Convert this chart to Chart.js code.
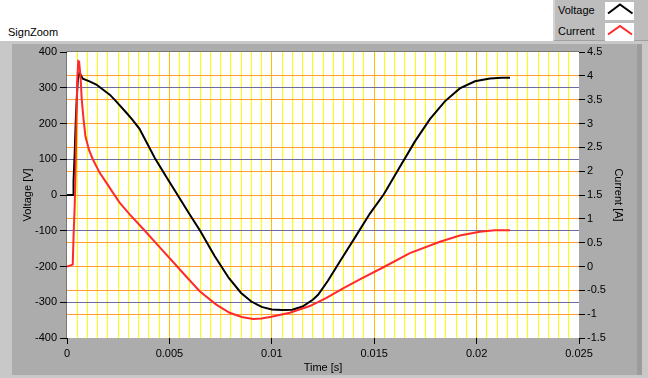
<!DOCTYPE html>
<html>
<head>
<meta charset="utf-8">
<script src="https://cdn.jsdelivr.net/npm/chart.js@4.4.1/dist/chart.umd.min.js"></script>
<style>
  body { margin: 0; width: 648px; height: 378px; overflow: hidden; background: #fff; position: relative;
    font-family: 'Liberation Sans', Arial, sans-serif; font-size: 11px; color: #000; }
  .frame { position: absolute; left: 0; top: 41px; width: 648px; height: 337px; background: #c8c8c8; }
  .inner { position: absolute; left: 12px; top: 44px; width: 625px; height: 331px; background: #acacac; }
  .edge { position: absolute; left: 637px; top: 44px; width: 5px; height: 331px; background: #9c9c9c; }
  #graph-name { position: absolute; left: 8px; top: 26px; line-height: 13px; }
  #legend { position: absolute; left: 553px; top: 0; width: 95px; height: 41px; background: #bdbdbd;
    box-sizing: border-box; border-left: 2px solid #d4d4d4; border-bottom: 1px solid #a0a0a0; }
  .leg-label { position: absolute; left: 3px; line-height: 13px; }
  .leg-swatch { position: absolute; left: 50px; width: 29px; height: 18px; background: #fff; }
  canvas { position: absolute; left: 0; top: 0; }
</style>
</head>
<body>
<div class="frame"></div>
<div class="inner"></div>
<div class="edge"></div>
<div id="graph-name">SignZoom</div>
<div id="legend">
  <div class="leg-label" style="top:4px">Voltage</div>
  <svg class="leg-swatch" style="top:2px" width="29" height="18">
    <polyline points="3,11.5 15,2.5 27.5,11.5" fill="none" stroke="#000" stroke-width="2"/>
  </svg>
  <div class="leg-label" style="top:25px">Current</div>
  <svg class="leg-swatch" style="top:23px" width="29" height="18">
    <polyline points="3,11.5 15,3 27,11.5" fill="none" stroke="#ff2a2a" stroke-width="2"/>
  </svg>
</div>
<canvas id="sign-chart" width="648" height="378"></canvas>
<script>
// values
const timeVoltage = [0, 0.0003, 0.00032, 0.00038, 0.00043, 0.00048, 0.00053, 0.00061, 0.00077, 0.0011,
  0.00143, 0.00175, 0.0021, 0.0024, 0.0029, 0.0032, 0.00354, 0.00428, 0.0048, 0.0054,
  0.006, 0.0065, 0.0072, 0.0079, 0.0085, 0.009, 0.0095, 0.01, 0.0105, 0.011,
  0.0115, 0.012, 0.01226, 0.01274, 0.0133, 0.01405, 0.01479, 0.01547, 0.01625, 0.01699,
  0.01772, 0.01845, 0.01918, 0.01992, 0.02065, 0.02123, 0.02163];
const voltage = [0, 0, 39, 122, 211, 273, 323, 342, 325, 318,
  309, 295, 280, 262, 230, 210, 185, 104, 55, 0,
  -55, -100, -170, -232, -274, -298, -313, -320, -322, -321,
  -312, -293, -279, -240, -188, -120, -52, 2, 78, 150,
  212, 262, 298, 318, 326, 328, 328];

const timeCurrent = [0, 0.00028, 0.00032, 0.00037, 0.00041, 0.00046, 0.0005, 0.00055, 0.00059, 0.00066,
  0.00072, 0.00081, 0.0009, 0.00107, 0.00126, 0.00159, 0.00192, 0.00224, 0.00257, 0.00305,
  0.00379, 0.00452, 0.00526, 0.00584, 0.00648, 0.00729, 0.00794, 0.00853, 0.00908, 0.0095,
  0.00998, 0.01088, 0.01186, 0.01267, 0.01348, 0.0143, 0.01552, 0.01674, 0.01821, 0.01918,
  0.02016, 0.02089, 0.02163];
const current = [0, 0.04, 0.63, 1.2, 1.82, 3.01, 3.92, 4.31, 4.3, 3.99,
  3.5, 3.08, 2.73, 2.45, 2.25, 1.97, 1.76, 1.55, 1.34, 1.1,
  0.755, 0.405, 0.057, -0.22, -0.52, -0.8, -0.97, -1.06, -1.1, -1.09,
  -1.055, -0.97, -0.83, -0.66, -0.46, -0.27, 0, 0.28, 0.52, 0.65,
  0.73, 0.76, 0.76];

const timeTicks = [0, 0.005, 0.01, 0.015, 0.02, 0.025];
const timeTickLabels = ['0', '0.005', '0.01', '0.015', '0.02', '0.025'];
const voltageTicks = [-400, -300, -200, -100, 0, 100, 200, 300, 400];
const voltageTickLabels = ['-400', '-300', '-200', '-100', '0', '100', '200', '300', '400'];
const currentTicks = [-1.5, -1, -0.5, 0, 0.5, 1, 1.5, 2, 2.5, 3, 3.5, 4, 4.5];
const currentTickLabels = ['-1.5', '-1', '-0.5', '0', '0.5', '1', '1.5', '2', '2.5', '3', '3.5', '4', '4.5'];

const MINOR_PER_MAJOR = 10;

const gridColors = {
  timeMinor: '#ffff00',
  timeMajor: '#ffc000',
  voltage: '#6b6b9c',
  current: '#ff9d33',
};

const font = { family: "'Liberation Sans', Arial, sans-serif", size: 11 };

const toPoints = (xs, ys) => xs.map((x, i) => ({ x, y: ys[i] }));

const minorTimeTicks = () => {
  const step = (timeTicks[1] - timeTicks[0]) / MINOR_PER_MAJOR;
  const count = (timeTicks.length - 1) * MINOR_PER_MAJOR;
  return Array.from({ length: count + 1 }, (_, i) => ({ value: i * step }));
};

// white plot area, sunken edge and the grid, all under the curves
const plotBackground = {
  id: 'plotBackground',
  beforeDraw(chart) {
    const { ctx, chartArea: a } = chart;
    ctx.save();
    ctx.fillStyle = '#fff';
    ctx.fillRect(a.left, a.top, a.right - a.left, a.bottom - a.top);
    ctx.strokeStyle = '#767676';
    ctx.lineWidth = 1;
    ctx.beginPath();
    ctx.moveTo(a.left - 0.5, a.bottom);
    ctx.lineTo(a.left - 0.5, a.top - 0.5);
    ctx.lineTo(a.right, a.top - 0.5);
    ctx.stroke();
    ctx.restore();
  },
  beforeDatasetsDraw(chart) {
    const { ctx, chartArea: a, scales } = chart;
    const line = (x1, y1, x2, y2, color) => {
      ctx.strokeStyle = color;
      ctx.beginPath();
      ctx.moveTo(x1, y1);
      ctx.lineTo(x2, y2);
      ctx.stroke();
    };
    const crisp = (p) => Math.floor(p + 0.01) + 0.5;
    ctx.save();
    ctx.lineWidth = 1;
    scales.x.ticks.forEach((t, i, arr) => {
      if (i === 0 || i === arr.length - 1) return;
      const x = crisp(scales.x.getPixelForValue(t.value));
      line(x, a.top, x, a.bottom, i % MINOR_PER_MAJOR === 0 ? gridColors.timeMajor : gridColors.timeMinor);
    });
    const currentRows = currentTicks.slice(1, -1).map((v) => crisp(scales.y2.getPixelForValue(v)));
    voltageTicks.slice(1, -1).forEach((v) => {
      const y = crisp(scales.y.getPixelForValue(v));
      // where an orange current line sits on the same row it hides the voltage line
      if (currentRows.some((r) => Math.abs(r - y) < 1.5)) return;
      line(a.left, y, a.right, y, gridColors.voltage);
    });
    currentRows.forEach((y) => line(a.left, y, a.right, y, gridColors.current));
    ctx.restore();
  },
};

new Chart(document.getElementById('sign-chart'), {
  type: 'line',
  data: {
    datasets: [
      {
        label: 'Current',
        data: toPoints(timeCurrent, current),
        yAxisID: 'y2',
        borderColor: '#ff2a2a',
        borderWidth: 2,
        pointRadius: 0,
        tension: 0,
        fill: false,
        order: 1,
      },
      {
        label: 'Voltage',
        data: toPoints(timeVoltage, voltage),
        yAxisID: 'y',
        borderColor: '#000',
        borderWidth: 2,
        pointRadius: 0,
        tension: 0,
        fill: false,
        order: 2,
      },
    ],
  },
  options: {
    responsive: false,
    animation: false,
    layout: { padding: { top: 52, left: 0, right: 0, bottom: 0 } },
    plugins: { legend: { display: false }, tooltip: { enabled: false } },
    scales: {
      x: {
        type: 'linear',
        position: 'bottom',
        min: timeTicks[0],
        max: timeTicks[timeTicks.length - 1],
        afterBuildTicks: (scale) => { scale.ticks = minorTimeTicks(); },
        afterFit: (scale) => { scale.height = 40; },
        border: { display: false },
        grid: {
          drawOnChartArea: false,
          tickColor: (ctx) => (ctx.index % MINOR_PER_MAJOR === 0 ? '#000' : 'rgba(0,0,0,0)'),
          tickLength: 6,
        },
        ticks: {
          autoSkip: false,
          maxRotation: 0,
          padding: 3,
          color: '#000',
          font,
          callback: (v, i) => (i % MINOR_PER_MAJOR === 0 ? timeTickLabels[i / MINOR_PER_MAJOR] : ''),
        },
        title: { display: true, text: 'Time [s]', color: '#000', font, padding: { top: 0, bottom: 3.4 } },
      },
      y: {
        type: 'linear',
        position: 'left',
        min: voltageTicks[0],
        max: voltageTicks[voltageTicks.length - 1],
        afterBuildTicks: (scale) => { scale.ticks = voltageTicks.map((value) => ({ value })); },
        afterFit: (scale) => { scale.width = 67; },
        border: { display: false },
        grid: { drawOnChartArea: false, tickColor: '#000', tickLength: 7 },
        ticks: {
          padding: 3,
          color: '#000',
          font,
          callback: (v, i) => voltageTickLabels[i],
        },
        title: { display: true, text: 'Voltage [V]', color: '#000', font, padding: { top: 21, bottom: 0 } },
      },
      y2: {
        type: 'linear',
        position: 'right',
        min: currentTicks[0],
        max: currentTicks[currentTicks.length - 1],
        afterBuildTicks: (scale) => { scale.ticks = currentTicks.map((value) => ({ value })); },
        afterFit: (scale) => { scale.width = 69; },
        border: { display: false },
        grid: { drawOnChartArea: false, tickColor: '#000', tickLength: 6 },
        ticks: {
          padding: 2,
          color: '#000',
          font,
          callback: (v, i) => currentTickLabels[i],
        },
        title: { display: true, text: 'Current [A]', color: '#000', font, padding: { top: 23.4, bottom: 0 } },
      },
    },
  },
  plugins: [plotBackground],
});
</script>
</body>
</html>
